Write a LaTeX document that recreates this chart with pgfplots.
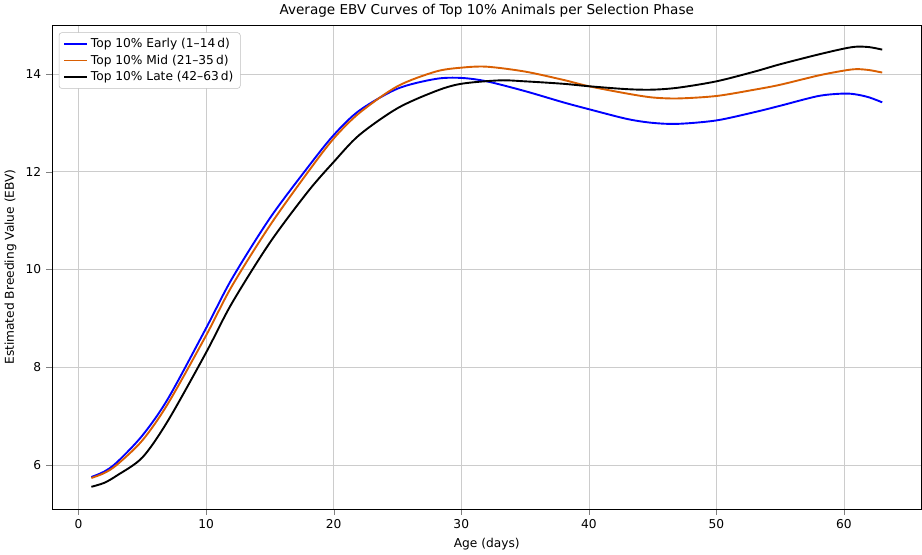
\documentclass[border=0pt]{standalone}
\usepackage{pgfplots}
\pgfplotsset{compat=1.18}
\usepackage{fontspec}
\setmainfont{DejaVu Sans}
\definecolor{myorange}{HTML}{D95F02}
\begin{document}
\begin{tikzpicture}
\begin{axis}[
  width=24.1cm, height=14.1cm,
  xmin=-2.1, xmax=66.1, ymin=5.1, ymax=15.0,
  xtick={0,10,...,60}, ytick={6,8,10,12,14},
  tick align=outside, tick pos=left,
  grid=major, grid style={gray!40},
  tick label style={font=\small},
  /pgf/number format/assume math mode=true,
  title={Average EBV Curves of Top 10\% Animals per Selection Phase},
  title style={yshift=-4pt},
  xlabel={Age (days)}, ylabel={Estimated Breeding Value (EBV)},
  label style={font=\small},
  legend style={font=\small, draw=gray!50, rounded corners=2pt, at={(0.008,0.985)}, anchor=north west},
  legend cell align=left,
]
\addplot[blue, line width=1.4pt, smooth] coordinates {
(1,5.75)(2,5.86)(3,6.05)(5,6.6)(7,7.35)(10,8.8)(12,9.8)(15,11.05)(18,12.1)(20,12.75)(22,13.25)(25,13.7)(28,13.9)(30,13.92)(32,13.85)(35,13.65)(38,13.42)(40,13.28)(43,13.08)(45,13.0)(47,12.98)(50,13.05)(53,13.22)(55,13.35)(58,13.55)(60,13.6)(61,13.58)(62,13.52)(63,13.42)};
\addlegendentry{Top 10\% Early (1–14\,d)}
\addplot[myorange, line width=1.4pt, smooth] coordinates {
(1,5.73)(2,5.83)(3,6.0)(5,6.5)(7,7.25)(10,8.65)(12,9.65)(15,10.9)(18,12.0)(20,12.68)(22,13.2)(25,13.75)(28,14.05)(30,14.13)(32,14.15)(35,14.05)(38,13.88)(40,13.75)(43,13.6)(45,13.52)(47,13.5)(50,13.55)(53,13.68)(55,13.78)(58,13.97)(60,14.07)(61,14.1)(62,14.08)(63,14.03)};
\addlegendentry{Top 10\% Mid (21–35\,d)}
\addplot[black, line width=1.4pt, smooth] coordinates {
(1,5.55)(2,5.63)(3,5.78)(5,6.15)(7,6.9)(10,8.3)(12,9.3)(15,10.55)(18,11.6)(20,12.2)(22,12.75)(25,13.3)(28,13.65)(30,13.8)(33,13.87)(35,13.85)(38,13.8)(40,13.75)(43,13.69)(45,13.68)(47,13.72)(50,13.85)(53,14.05)(55,14.2)(58,14.4)(60,14.52)(61,14.56)(62,14.55)(63,14.5)};
\addlegendentry{Top 10\% Late (42–63\,d)}
\end{axis}
\end{tikzpicture}
\end{document}
